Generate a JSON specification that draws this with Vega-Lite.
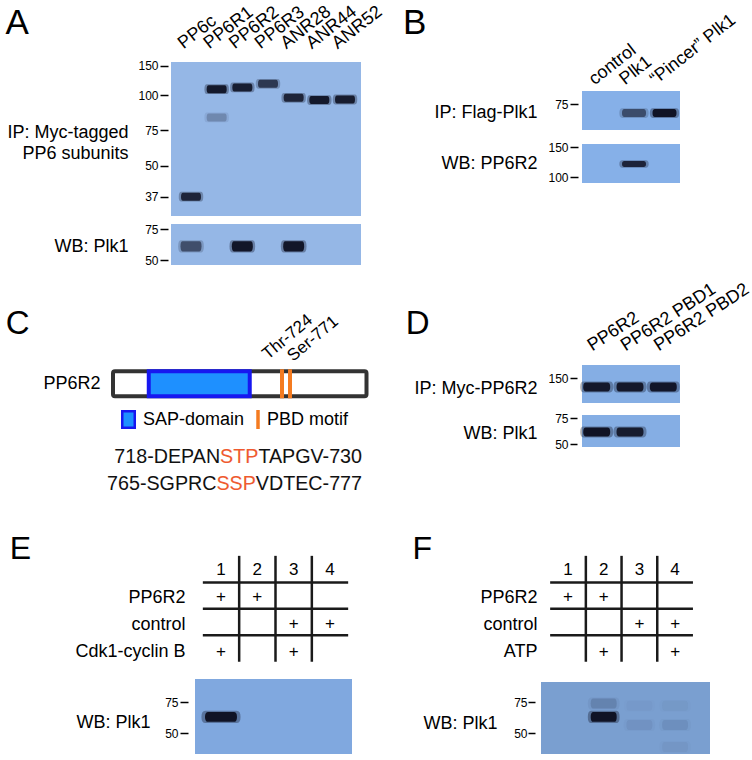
{
 "$schema": "https://vega.github.io/schema/vega-lite/v6.json",
 "width": 752, "height": 760,
 "autosize": {"type": "none"},
 "padding": 0,
 "config": {
  "font": "Liberation Sans",
  "view": {"stroke": null},
  "axis": {"labelFont": "Liberation Sans", "titleFont": "Liberation Sans", "domain": false, "grid": false, "labelColor": "black", "titleColor": "black", "titleFontWeight": "normal", "tickColor": "black", "tickWidth": 1.5, "labelOverlap": false, "labelFlush": false, "labelLimit": 0, "titleAngle": 0, "titleLimit": 0},
  "text": {"font": "Liberation Sans", "color": "black"},
  "tick": {"opacity": 1},
  "point": {"opacity": 1}
 },
 "datasets": {
  "blots": [
   {"blot": "A-IP"}, {"blot": "A-WB"}, {"blot": "B-IP"}, {"blot": "B-WB"},
   {"blot": "D-IP"}, {"blot": "D-WB"}, {"blot": "E-WB"}, {"blot": "F-WB"}
  ],
  "bands": [
   {"blot": "A-IP", "lane": "PP6c", "mw": 37, "intensity": 0.85},
   {"blot": "A-IP", "lane": "PP6R1", "mw": 110, "intensity": 0.95},
   {"blot": "A-IP", "lane": "PP6R1", "mw": 84, "intensity": 0.22},
   {"blot": "A-IP", "lane": "PP6R2", "mw": 113, "intensity": 0.9},
   {"blot": "A-IP", "lane": "PP6R3", "mw": 119, "intensity": 0.7},
   {"blot": "A-IP", "lane": "ANR28", "mw": 98, "intensity": 0.85},
   {"blot": "A-IP", "lane": "ANR44", "mw": 96.4, "intensity": 0.95},
   {"blot": "A-IP", "lane": "ANR52", "mw": 96.8, "intensity": 0.92},
   {"blot": "A-WB", "lane": "PP6c", "mw": 61, "intensity": 0.55},
   {"blot": "A-WB", "lane": "PP6R2", "mw": 61, "intensity": 0.97},
   {"blot": "A-WB", "lane": "ANR28", "mw": 61, "intensity": 0.97},
   {"blot": "B-IP", "lane": "Plk1", "mw": 67.7, "intensity": 0.55},
   {"blot": "B-IP", "lane": "“Pincer” Plk1", "mw": 67.7, "intensity": 1},
   {"blot": "B-WB", "lane": "Plk1", "mw": 121.7, "intensity": 0.85},
   {"blot": "D-IP", "lane": "PP6R2", "mw": 135, "intensity": 0.95},
   {"blot": "D-IP", "lane": "PP6R2 PBD1", "mw": 135, "intensity": 0.95},
   {"blot": "D-IP", "lane": "PP6R2 PBD2", "mw": 135, "intensity": 0.97},
   {"blot": "D-WB", "lane": "PP6R2", "mw": 61.5, "intensity": 1},
   {"blot": "D-WB", "lane": "PP6R2 PBD1", "mw": 61.5, "intensity": 0.92},
   {"blot": "E-WB", "laneNo": 1, "mw": 63, "intensity": 1},
   {"blot": "F-WB", "laneNo": 2, "mw": 63, "intensity": 1},
   {"blot": "F-WB", "laneNo": 2, "mw": 73.8, "intensity": 0.15},
   {"blot": "F-WB", "laneNo": 3, "mw": 56.5, "intensity": 0.06},
   {"blot": "F-WB", "laneNo": 4, "mw": 56.5, "intensity": 0.08},
   {"blot": "F-WB", "laneNo": 3, "mw": 72, "intensity": 0.025},
   {"blot": "F-WB", "laneNo": 4, "mw": 72, "intensity": 0.03},
   {"blot": "F-WB", "laneNo": 4, "mw": 38.7, "intensity": 0.04}
  ],
  "protein": [{"name": "PP6R2", "start": 1, "end": 923}],
  "domains": [{"name": "PP6R2", "feature": "SAP-domain", "start": 154, "end": 586}],
  "motifs": [
   {"name": "PP6R2", "feature": "PBD motif", "site": "Thr-724", "residue": 724},
   {"name": "PP6R2", "feature": "PBD motif", "site": "Ser-771", "residue": 771}
  ],
  "features": [{"feature": "SAP-domain"}, {"feature": "PBD motif"}],
  "sequences": [
   {"line": 1, "sequence": "718-DEPANSTPTAPGV-730", "fromMotif": "STPTAPGV-730", "afterMotif": "TAPGV-730"},
   {"line": 2, "sequence": "765-SGPRCSSPVDTEC-777", "fromMotif": "SSPVDTEC-777", "afterMotif": "VDTEC-777"}
  ],
  "tableRows": [
   {"panel": "E", "condition": "header"}, {"panel": "E", "condition": "PP6R2"}, {"panel": "E", "condition": "control"}, {"panel": "E", "condition": "Cdk1-cyclin B"},
   {"panel": "F", "condition": "header"}, {"panel": "F", "condition": "PP6R2"}, {"panel": "F", "condition": "control"}, {"panel": "F", "condition": "ATP"}
  ],
  "table": [
   {"panel": "E", "condition": "header", "laneNo": 1, "text": "1"},
   {"panel": "E", "condition": "header", "laneNo": 2, "text": "2"},
   {"panel": "E", "condition": "header", "laneNo": 3, "text": "3"},
   {"panel": "E", "condition": "header", "laneNo": 4, "text": "4"},
   {"panel": "E", "condition": "PP6R2", "laneNo": 1, "text": "+"},
   {"panel": "E", "condition": "PP6R2", "laneNo": 2, "text": "+"},
   {"panel": "E", "condition": "control", "laneNo": 3, "text": "+"},
   {"panel": "E", "condition": "control", "laneNo": 4, "text": "+"},
   {"panel": "E", "condition": "Cdk1-cyclin B", "laneNo": 1, "text": "+"},
   {"panel": "E", "condition": "Cdk1-cyclin B", "laneNo": 3, "text": "+"},
   {"panel": "F", "condition": "header", "laneNo": 1, "text": "1"},
   {"panel": "F", "condition": "header", "laneNo": 2, "text": "2"},
   {"panel": "F", "condition": "header", "laneNo": 3, "text": "3"},
   {"panel": "F", "condition": "header", "laneNo": 4, "text": "4"},
   {"panel": "F", "condition": "PP6R2", "laneNo": 1, "text": "+"},
   {"panel": "F", "condition": "PP6R2", "laneNo": 2, "text": "+"},
   {"panel": "F", "condition": "control", "laneNo": 3, "text": "+"},
   {"panel": "F", "condition": "control", "laneNo": 4, "text": "+"},
   {"panel": "F", "condition": "ATP", "laneNo": 2, "text": "+"},
   {"panel": "F", "condition": "ATP", "laneNo": 4, "text": "+"}
  ]
 },
 "resolve": {"scale": {"x": "independent", "y": "independent"}},
 "layer": [
  {"data": {"name": "blots"}, "transform": [{"filter": "datum.blot === 'A-IP'"}], "mark": {"type": "rect", "color": "#95b7e6"},
   "encoding": {"x": {"field": "blot", "type": "nominal", "scale": {"type": "band", "range": [171, 361], "paddingInner": 0, "paddingOuter": 0}, "axis": null},
                "y": {"field": "blot", "type": "nominal", "scale": {"type": "band", "range": [62, 216], "paddingInner": 0, "paddingOuter": 0}, "axis": null}}},
  {"data": {"name": "blots"}, "transform": [{"filter": "datum.blot === 'A-WB'"}], "mark": {"type": "rect", "color": "#95b7e6"},
   "encoding": {"x": {"field": "blot", "type": "nominal", "scale": {"type": "band", "range": [171, 361], "paddingInner": 0, "paddingOuter": 0}, "axis": null},
                "y": {"field": "blot", "type": "nominal", "scale": {"type": "band", "range": [224, 265], "paddingInner": 0, "paddingOuter": 0}, "axis": null}}},
  {"data": {"name": "blots"}, "transform": [{"filter": "datum.blot === 'B-IP'"}], "mark": {"type": "rect", "color": "#86b0e8"},
   "encoding": {"x": {"field": "blot", "type": "nominal", "scale": {"type": "band", "range": [582, 680], "paddingInner": 0, "paddingOuter": 0}, "axis": null},
                "y": {"field": "blot", "type": "nominal", "scale": {"type": "band", "range": [91, 130], "paddingInner": 0, "paddingOuter": 0}, "axis": null}}},
  {"data": {"name": "blots"}, "transform": [{"filter": "datum.blot === 'B-WB'"}], "mark": {"type": "rect", "color": "#86b0e8"},
   "encoding": {"x": {"field": "blot", "type": "nominal", "scale": {"type": "band", "range": [582, 680], "paddingInner": 0, "paddingOuter": 0}, "axis": null},
                "y": {"field": "blot", "type": "nominal", "scale": {"type": "band", "range": [144, 183], "paddingInner": 0, "paddingOuter": 0}, "axis": null}}},
  {"data": {"name": "blots"}, "transform": [{"filter": "datum.blot === 'D-IP'"}], "mark": {"type": "rect", "color": "#85aee4"},
   "encoding": {"x": {"field": "blot", "type": "nominal", "scale": {"type": "band", "range": [582, 680], "paddingInner": 0, "paddingOuter": 0}, "axis": null},
                "y": {"field": "blot", "type": "nominal", "scale": {"type": "band", "range": [365, 403], "paddingInner": 0, "paddingOuter": 0}, "axis": null}}},
  {"data": {"name": "blots"}, "transform": [{"filter": "datum.blot === 'D-WB'"}], "mark": {"type": "rect", "color": "#85aee4"},
   "encoding": {"x": {"field": "blot", "type": "nominal", "scale": {"type": "band", "range": [582, 680], "paddingInner": 0, "paddingOuter": 0}, "axis": null},
                "y": {"field": "blot", "type": "nominal", "scale": {"type": "band", "range": [415, 447], "paddingInner": 0, "paddingOuter": 0}, "axis": null}}},
  {"data": {"name": "blots"}, "transform": [{"filter": "datum.blot === 'E-WB'"}], "mark": {"type": "rect", "color": "#80a8df"},
   "encoding": {"x": {"field": "blot", "type": "nominal", "scale": {"type": "band", "range": [195, 352], "paddingInner": 0, "paddingOuter": 0}, "axis": null},
                "y": {"field": "blot", "type": "nominal", "scale": {"type": "band", "range": [679, 754], "paddingInner": 0, "paddingOuter": 0}, "axis": null}}},
  {"data": {"name": "blots"}, "transform": [{"filter": "datum.blot === 'F-WB'"}], "mark": {"type": "rect", "color": "#7a9fd0"},
   "encoding": {"x": {"field": "blot", "type": "nominal", "scale": {"type": "band", "range": [541, 710], "paddingInner": 0, "paddingOuter": 0}, "axis": null},
                "y": {"field": "blot", "type": "nominal", "scale": {"type": "band", "range": [682, 754], "paddingInner": 0, "paddingOuter": 0}, "axis": null}}},

  {"data": {"name": "bands"}, "transform": [{"filter": "datum.blot === 'A-IP'"}],
   "encoding": {
    "x": {"field": "lane", "type": "ordinal", "scale": {"type": "point", "domain": ["PP6c", "PP6R1", "PP6R2", "PP6R3", "ANR28", "ANR44", "ANR52"], "range": [191, 345], "padding": 0},
          "axis": {"orient": "top", "offset": -62, "ticks": false, "tickSize": 0, "labelAngle": -38, "labelAlign": "left", "labelBaseline": "alphabetic", "labelPadding": 13, "labelOffset": -8, "labelFontSize": 18,
                   "title": "A", "titleX": 5, "titleY": -29, "titleAlign": "left", "titleBaseline": "alphabetic", "titleFontSize": 35}},
    "y": {"field": "mw", "type": "quantitative", "scale": {"domain": [37, 50, 75, 100, 150], "range": [196.7, 165.7, 130, 95, 65.7], "nice": false, "zero": false},
          "axis": {"orient": "left", "offset": -168, "values": [150, 100, 75, 50, 37], "tickSize": 8, "labelPadding": 2, "labelFontSize": 12,
                   "title": ["IP: Myc-tagged", "PP6 subunits"], "titleX": -40, "titleY": 132.5, "titleAlign": "right", "titleBaseline": "middle", "titleFontSize": 18, "titleLineHeight": 21}}
   },
   "layer": [
    {"mark": {"type": "point", "shape": "M-0.8,-0.4L0.8,-0.4Q1,-0.4 1,0Q1,0.4 0.8,0.4L-0.8,0.4Q-1,0.4 -1,0Q-1,-0.4 -0.8,-0.4Z", "size": 600, "filled": true, "color": "#101325", "opacity": 0.35, "strokeWidth": 0},
     "encoding": {"fillOpacity": {"field": "intensity", "type": "quantitative", "scale": null}}},
    {"mark": {"type": "point", "shape": "M-0.8,-0.4L0.8,-0.4Q1,-0.4 1,0Q1,0.4 0.8,0.4L-0.8,0.4Q-1,0.4 -1,0Q-1,-0.4 -0.8,-0.4Z", "size": 400, "filled": true, "color": "#101325", "strokeWidth": 0},
     "encoding": {"opacity": {"field": "intensity", "type": "quantitative", "scale": null}}}
   ]},

  {"data": {"name": "bands"}, "transform": [{"filter": "datum.blot === 'A-WB'"}],
   "encoding": {
    "x": {"field": "lane", "type": "ordinal", "scale": {"type": "point", "domain": ["PP6c", "PP6R1", "PP6R2", "PP6R3", "ANR28", "ANR44", "ANR52"], "range": [191, 345], "padding": 0}, "axis": null},
    "y": {"field": "mw", "type": "quantitative", "scale": {"domain": [50, 75], "range": [260, 229], "nice": false, "zero": false},
          "axis": {"orient": "left", "offset": -168, "values": [75, 50], "tickSize": 8, "labelPadding": 2, "labelFontSize": 12,
                   "title": "WB: Plk1", "titleX": -40, "titleY": 246, "titleAlign": "right", "titleBaseline": "middle", "titleFontSize": 18}}
   },
   "layer": [
    {"mark": {"type": "point", "shape": "M-0.8,-0.48L0.8,-0.48Q1,-0.48 1,0Q1,0.48 0.8,0.48L-0.8,0.48Q-1,0.48 -1,0Q-1,-0.48 -0.8,-0.48Z", "size": 660, "filled": true, "color": "#101325", "opacity": 0.35, "strokeWidth": 0},
     "encoding": {"fillOpacity": {"field": "intensity", "type": "quantitative", "scale": null}}},
    {"mark": {"type": "point", "shape": "M-0.8,-0.48L0.8,-0.48Q1,-0.48 1,0Q1,0.48 0.8,0.48L-0.8,0.48Q-1,0.48 -1,0Q-1,-0.48 -0.8,-0.48Z", "size": 441, "filled": true, "color": "#101325", "strokeWidth": 0},
     "encoding": {"opacity": {"field": "intensity", "type": "quantitative", "scale": null}}}
   ]},

  {"data": {"name": "bands"}, "transform": [{"filter": "datum.blot === 'B-IP'"}],
   "encoding": {
    "x": {"field": "lane", "type": "ordinal", "scale": {"type": "point", "domain": ["control", "Plk1", "“Pincer” Plk1"], "range": [603.5, 664.5], "padding": 0},
          "axis": {"orient": "top", "offset": -91, "ticks": false, "tickSize": 0, "labelAngle": -38, "labelAlign": "left", "labelBaseline": "alphabetic", "labelPadding": 6, "labelOffset": -9.5, "labelFontSize": 18,
                   "title": "B", "titleX": 402.5, "titleY": -58, "titleAlign": "left", "titleBaseline": "alphabetic", "titleFontSize": 35}},
    "y": {"field": "mw", "type": "quantitative", "scale": {"domain": [50, 75], "range": [135, 104], "nice": false, "zero": false},
          "axis": {"orient": "left", "offset": -578, "values": [75], "tickSize": 8, "labelPadding": 2, "labelFontSize": 12,
                   "title": "IP: Flag-Plk1", "titleX": -41, "titleY": 112, "titleAlign": "right", "titleBaseline": "middle", "titleFontSize": 18}}
   },
   "layer": [
    {"mark": {"type": "point", "shape": "M-0.8,-0.33L0.8,-0.33Q1,-0.33 1,0Q1,0.33 0.8,0.33L-0.8,0.33Q-1,0.33 -1,0Q-1,-0.33 -0.8,-0.33Z", "size": 860, "filled": true, "color": "#101325", "opacity": 0.35, "strokeWidth": 0},
     "encoding": {"fillOpacity": {"field": "intensity", "type": "quantitative", "scale": null}}},
    {"mark": {"type": "point", "shape": "M-0.8,-0.33L0.8,-0.33Q1,-0.33 1,0Q1,0.33 0.8,0.33L-0.8,0.33Q-1,0.33 -1,0Q-1,-0.33 -0.8,-0.33Z", "size": 576, "filled": true, "color": "#101325", "strokeWidth": 0},
     "encoding": {"opacity": {"field": "intensity", "type": "quantitative", "scale": null}}}
   ]},

  {"data": {"name": "bands"}, "transform": [{"filter": "datum.blot === 'B-WB'"}],
   "encoding": {
    "x": {"field": "lane", "type": "ordinal", "scale": {"type": "point", "domain": ["control", "Plk1", "“Pincer” Plk1"], "range": [603.5, 664.5], "padding": 0}, "axis": null},
    "y": {"field": "mw", "type": "quantitative", "scale": {"domain": [100, 150], "range": [177, 147], "nice": false, "zero": false},
          "axis": {"orient": "left", "offset": -578, "values": [150, 100], "tickSize": 8, "labelPadding": 2, "labelFontSize": 12,
                   "title": "WB: PP6R2", "titleX": -41, "titleY": 163, "titleAlign": "right", "titleBaseline": "middle", "titleFontSize": 18}}
   },
   "layer": [
    {"mark": {"type": "point", "shape": "M-0.8,-0.25L0.8,-0.25Q1,-0.25 1,0Q1,0.25 0.8,0.25L-0.8,0.25Q-1,0.25 -1,0Q-1,-0.25 -0.8,-0.25Z", "size": 860, "filled": true, "color": "#101325", "opacity": 0.35, "strokeWidth": 0},
     "encoding": {"fillOpacity": {"field": "intensity", "type": "quantitative", "scale": null}}},
    {"mark": {"type": "point", "shape": "M-0.8,-0.25L0.8,-0.25Q1,-0.25 1,0Q1,0.25 0.8,0.25L-0.8,0.25Q-1,0.25 -1,0Q-1,-0.25 -0.8,-0.25Z", "size": 576, "filled": true, "color": "#101325", "strokeWidth": 0},
     "encoding": {"opacity": {"field": "intensity", "type": "quantitative", "scale": null}}}
   ]},

  {"data": {"name": "bands"}, "transform": [{"filter": "datum.blot === 'D-IP'"}],
   "encoding": {
    "x": {"field": "lane", "type": "ordinal", "scale": {"type": "point", "domain": ["PP6R2", "PP6R2 PBD1", "PP6R2 PBD2"], "range": [596.7, 663.3], "padding": 0},
          "axis": {"orient": "top", "offset": -365, "ticks": false, "tickSize": 0, "labelAngle": -33, "labelAlign": "left", "labelBaseline": "alphabetic", "labelPadding": 14, "labelOffset": -5, "labelFontSize": 18,
                   "title": "D", "titleX": 405.3, "titleY": -32, "titleAlign": "left", "titleBaseline": "alphabetic", "titleFontSize": 33}},
    "y": {"field": "mw", "type": "quantitative", "scale": {"domain": [100, 150], "range": [408, 378], "nice": false, "zero": false},
          "axis": {"orient": "left", "offset": -577, "values": [150], "tickSize": 7, "labelPadding": 2, "labelFontSize": 12,
                   "title": "IP: Myc-PP6R2", "titleX": -40, "titleY": 388, "titleAlign": "right", "titleBaseline": "middle", "titleFontSize": 18}}
   },
   "layer": [
    {"mark": {"type": "point", "shape": "M-0.8,-0.33L0.8,-0.33Q1,-0.33 1,0Q1,0.33 0.8,0.33L-0.8,0.33Q-1,0.33 -1,0Q-1,-0.33 -0.8,-0.33Z", "size": 1090, "filled": true, "color": "#101325", "opacity": 0.35, "strokeWidth": 0},
     "encoding": {"fillOpacity": {"field": "intensity", "type": "quantitative", "scale": null}}},
    {"mark": {"type": "point", "shape": "M-0.8,-0.33L0.8,-0.33Q1,-0.33 1,0Q1,0.33 0.8,0.33L-0.8,0.33Q-1,0.33 -1,0Q-1,-0.33 -0.8,-0.33Z", "size": 729, "filled": true, "color": "#101325", "strokeWidth": 0},
     "encoding": {"opacity": {"field": "intensity", "type": "quantitative", "scale": null}}}
   ]},

  {"data": {"name": "bands"}, "transform": [{"filter": "datum.blot === 'D-WB'"}],
   "encoding": {
    "x": {"field": "lane", "type": "ordinal", "scale": {"type": "point", "domain": ["PP6R2", "PP6R2 PBD1", "PP6R2 PBD2"], "range": [596.7, 663.3], "padding": 0}, "axis": null},
    "y": {"field": "mw", "type": "quantitative", "scale": {"domain": [50, 75], "range": [444, 418], "nice": false, "zero": false},
          "axis": {"orient": "left", "offset": -577, "values": [75, 50], "tickSize": 7, "labelPadding": 2, "labelFontSize": 12,
                   "title": "WB: Plk1", "titleX": -40, "titleY": 433, "titleAlign": "right", "titleBaseline": "middle", "titleFontSize": 18}}
   },
   "layer": [
    {"mark": {"type": "point", "shape": "M-0.8,-0.33L0.8,-0.33Q1,-0.33 1,0Q1,0.33 0.8,0.33L-0.8,0.33Q-1,0.33 -1,0Q-1,-0.33 -0.8,-0.33Z", "size": 1090, "filled": true, "color": "#101325", "opacity": 0.35, "strokeWidth": 0},
     "encoding": {"fillOpacity": {"field": "intensity", "type": "quantitative", "scale": null}}},
    {"mark": {"type": "point", "shape": "M-0.8,-0.33L0.8,-0.33Q1,-0.33 1,0Q1,0.33 0.8,0.33L-0.8,0.33Q-1,0.33 -1,0Q-1,-0.33 -0.8,-0.33Z", "size": 729, "filled": true, "color": "#101325", "strokeWidth": 0},
     "encoding": {"opacity": {"field": "intensity", "type": "quantitative", "scale": null}}}
   ]},

  {"data": {"name": "bands"}, "transform": [{"filter": "datum.blot === 'E-WB'"}],
   "encoding": {
    "x": {"field": "laneNo", "type": "quantitative", "scale": {"domain": [1, 4], "range": [221, 330], "nice": false, "zero": false}, "axis": null},
    "y": {"field": "mw", "type": "quantitative", "scale": {"domain": [50, 75], "range": [733, 702], "nice": false, "zero": false},
          "axis": {"orient": "left", "offset": -188, "values": [75, 50], "tickSize": 8, "labelPadding": 2, "labelFontSize": 12,
                   "title": "WB: Plk1", "titleX": -38, "titleY": 722, "titleAlign": "right", "titleBaseline": "middle", "titleFontSize": 18}}
   },
   "layer": [
    {"mark": {"type": "point", "shape": "M-0.8,-0.31L0.8,-0.31Q1,-0.31 1,0Q1,0.31 0.8,0.31L-0.8,0.31Q-1,0.31 -1,0Q-1,-0.31 -0.8,-0.31Z", "size": 1530, "filled": true, "color": "#101325", "opacity": 0.35, "strokeWidth": 0},
     "encoding": {"fillOpacity": {"field": "intensity", "type": "quantitative", "scale": null}}},
    {"mark": {"type": "point", "shape": "M-0.8,-0.31L0.8,-0.31Q1,-0.31 1,0Q1,0.31 0.8,0.31L-0.8,0.31Q-1,0.31 -1,0Q-1,-0.31 -0.8,-0.31Z", "size": 1024, "filled": true, "color": "#101325", "strokeWidth": 0},
     "encoding": {"opacity": {"field": "intensity", "type": "quantitative", "scale": null}}}
   ]},

  {"data": {"name": "bands"}, "transform": [{"filter": "datum.blot === 'F-WB'"}],
   "encoding": {
    "x": {"field": "laneNo", "type": "quantitative", "scale": {"domain": [1, 4], "range": [568, 675.1], "nice": false, "zero": false}, "axis": null},
    "y": {"field": "mw", "type": "quantitative", "scale": {"domain": [50, 75], "range": [733, 702], "nice": false, "zero": false},
          "axis": {"orient": "left", "offset": -535, "values": [75, 50], "tickSize": 7, "labelPadding": 1, "labelFontSize": 12,
                   "title": "WB: Plk1", "titleX": -38, "titleY": 723, "titleAlign": "right", "titleBaseline": "middle", "titleFontSize": 18}}
   },
   "layer": [
    {"mark": {"type": "point", "shape": "M-0.8,-0.38L0.8,-0.38Q1,-0.38 1,0Q1,0.38 0.8,0.38L-0.8,0.38Q-1,0.38 -1,0Q-1,-0.38 -0.8,-0.38Z", "size": 1010, "filled": true, "color": "#101325", "opacity": 0.35, "strokeWidth": 0},
     "encoding": {"fillOpacity": {"field": "intensity", "type": "quantitative", "scale": null}}},
    {"mark": {"type": "point", "shape": "M-0.8,-0.38L0.8,-0.38Q1,-0.38 1,0Q1,0.38 0.8,0.38L-0.8,0.38Q-1,0.38 -1,0Q-1,-0.38 -0.8,-0.38Z", "size": 676, "filled": true, "color": "#101325", "strokeWidth": 0},
     "encoding": {"opacity": {"field": "intensity", "type": "quantitative", "scale": null}}}
   ]},

  {"layer": [
    {"data": {"name": "protein"},
     "mark": {"type": "rect", "fill": "white", "stroke": "#333333", "strokeWidth": 4, "cornerRadius": 2},
     "encoding": {
      "x": {"field": "start", "type": "quantitative", "scale": {"domain": [1, 724, 771, 923], "range": [113, 282, 290, 366.5], "nice": false, "zero": false},
            "axis": {"orient": "top", "offset": 0, "labels": false, "ticks": false, "title": "C", "titleX": 5.3, "titleY": 333, "titleAlign": "left", "titleBaseline": "alphabetic", "titleFontSize": 33}},
      "x2": {"field": "end"},
      "y": {"field": "name", "type": "nominal", "scale": {"type": "band", "domain": ["PP6R2"], "range": [371.3, 396.3], "paddingInner": 0, "paddingOuter": 0},
            "axis": {"orient": "left", "offset": -113, "title": null, "ticks": false, "tickSize": 0, "labelPadding": 13, "labelFontSize": 18}}
     }},
    {"data": {"name": "domains"},
     "mark": {"type": "rect", "fill": "#1e90ff", "stroke": "#1717f0", "strokeWidth": 4},
     "encoding": {"x": {"field": "start", "type": "quantitative"}, "x2": {"field": "end"}, "y": {"field": "name", "type": "nominal"}}},
    {"data": {"name": "motifs"},
     "mark": {"type": "tick", "color": "#f47b20", "thickness": 4, "size": 29, "opacity": 1},
     "encoding": {"x": {"field": "residue", "type": "quantitative"}, "y": {"field": "name", "type": "nominal"}}},
    {"data": {"name": "motifs"}, "transform": [{"filter": "datum.site === 'Thr-724'"}],
     "mark": {"type": "text", "angle": -40, "align": "left", "baseline": "alphabetic", "fontSize": 17, "dx": -3.5, "dy": -17.7},
     "encoding": {"x": {"field": "residue", "type": "quantitative"}, "y": {"field": "name", "type": "nominal", "bandPosition": 0}, "text": {"field": "site"}}},
    {"data": {"name": "motifs"}, "transform": [{"filter": "datum.site === 'Ser-771'"}],
     "mark": {"type": "text", "angle": -40, "align": "left", "baseline": "alphabetic", "fontSize": 17, "dx": 8.3, "dy": -5.2},
     "encoding": {"x": {"field": "residue", "type": "quantitative"}, "y": {"field": "name", "type": "nominal", "bandPosition": 0}, "text": {"field": "site"}}}
  ]},

  {"data": {"name": "features"},
   "encoding": {
    "x": {"field": "feature", "type": "nominal", "scale": {"type": "point", "domain": ["SAP-domain", "PBD motif"], "range": [128.5, 258], "padding": 0}, "axis": null},
    "y": {"field": "feature", "type": "nominal", "scale": {"type": "point", "domain": ["SAP-domain", "PBD motif"], "range": [419.5, 419.5], "padding": 0}, "axis": null}
   },
   "layer": [
    {"transform": [{"filter": "datum.feature === 'SAP-domain'"}],
     "mark": {"type": "point", "shape": "M-0.758,-1L0.758,-1L0.758,1L-0.758,1Z", "size": 272.25, "filled": true, "fill": "#1e90ff", "stroke": "#1717f0", "strokeWidth": 2.5, "opacity": 1}},
    {"transform": [{"filter": "datum.feature === 'PBD motif'"}],
     "mark": {"type": "point", "shape": "M-0.184,-1L0.184,-1L0.184,1L-0.184,1Z", "size": 361, "filled": true, "fill": "#f47b20", "strokeWidth": 0, "opacity": 1}},
    {"transform": [{"filter": "datum.feature === 'SAP-domain'"}],
     "mark": {"type": "text", "align": "left", "baseline": "middle", "fontSize": 18, "dx": 14.5},
     "encoding": {"text": {"field": "feature"}}},
    {"transform": [{"filter": "datum.feature === 'PBD motif'"}],
     "mark": {"type": "text", "align": "left", "baseline": "middle", "fontSize": 18, "dx": 9},
     "encoding": {"text": {"field": "feature"}}}
   ]},

  {"data": {"name": "sequences"},
   "encoding": {
    "x": {"field": "line", "type": "ordinal", "scale": {"type": "point", "domain": [1, 2], "range": [362, 362], "padding": 0}, "axis": null},
    "y": {"field": "line", "type": "ordinal", "scale": {"type": "point", "domain": [1, 2], "range": [457, 484], "padding": 0}, "axis": null}
   },
   "layer": [
    {"mark": {"type": "text", "align": "right", "baseline": "middle", "fontSize": 19.7, "color": "#111111"}, "encoding": {"text": {"field": "sequence"}}},
    {"mark": {"type": "text", "align": "right", "baseline": "middle", "fontSize": 19.7, "fill": "white", "stroke": "white", "strokeWidth": 1.2}, "encoding": {"text": {"field": "fromMotif"}}},
    {"mark": {"type": "text", "align": "right", "baseline": "middle", "fontSize": 19.7, "color": "#ef5a2f"}, "encoding": {"text": {"field": "fromMotif"}}},
    {"mark": {"type": "text", "align": "right", "baseline": "middle", "fontSize": 19.7, "fill": "white", "stroke": "white", "strokeWidth": 1.2}, "encoding": {"text": {"field": "afterMotif"}}},
    {"mark": {"type": "text", "align": "right", "baseline": "middle", "fontSize": 19.7, "color": "#111111"}, "encoding": {"text": {"field": "afterMotif"}}}
   ]},

  {"resolve": {"scale": {"y": "independent"}},
   "layer": [
    {"data": {"name": "tableRows"}, "transform": [{"filter": "datum.panel === 'E' && datum.condition !== 'header'"}],
     "mark": {"type": "rule", "strokeWidth": 2.5, "color": "#1a1a1a"},
     "encoding": {
      "y": {"field": "condition", "type": "nominal", "bandPosition": 0,
            "scale": {"type": "band", "domain": ["header", "PP6R2", "control", "Cdk1-cyclin B"], "range": [556, 661.6], "paddingInner": 0, "paddingOuter": 0}, "axis": null},
      "x": {"datum": 0.5, "type": "quantitative", "scale": {"domain": [1, 4], "range": [221, 330], "nice": false, "zero": false},
            "axis": {"orient": "top", "offset": 0, "labels": false, "ticks": false, "title": "E", "titleX": 9.3, "titleY": 558, "titleAlign": "left", "titleBaseline": "alphabetic", "titleFontSize": 32}},
      "x2": {"datum": 4.5}
     }},
    {"data": {"name": "tableRows"}, "transform": [{"filter": "datum.panel === 'E'"}],
     "mark": {"type": "tick", "thickness": 2.5, "size": 26.7, "color": "#1a1a1a", "opacity": 1},
     "encoding": {"x": {"datum": 1.5, "type": "quantitative"},
                  "y": {"field": "condition", "type": "nominal", "scale": {"type": "band", "domain": ["header", "PP6R2", "control", "Cdk1-cyclin B"], "range": [556, 661.6], "paddingInner": 0, "paddingOuter": 0}, "axis": null}}},
    {"data": {"name": "tableRows"}, "transform": [{"filter": "datum.panel === 'E'"}],
     "mark": {"type": "tick", "thickness": 2.5, "size": 26.7, "color": "#1a1a1a", "opacity": 1},
     "encoding": {"x": {"datum": 2.5, "type": "quantitative"},
                  "y": {"field": "condition", "type": "nominal", "scale": {"type": "band", "domain": ["header", "PP6R2", "control", "Cdk1-cyclin B"], "range": [556, 661.6], "paddingInner": 0, "paddingOuter": 0}, "axis": null}}},
    {"data": {"name": "tableRows"}, "transform": [{"filter": "datum.panel === 'E'"}],
     "mark": {"type": "tick", "thickness": 2.5, "size": 26.7, "color": "#1a1a1a", "opacity": 1},
     "encoding": {"x": {"datum": 3.5, "type": "quantitative"},
                  "y": {"field": "condition", "type": "nominal", "scale": {"type": "band", "domain": ["header", "PP6R2", "control", "Cdk1-cyclin B"], "range": [556, 661.6], "paddingInner": 0, "paddingOuter": 0}, "axis": null}}},
    {"data": {"name": "table"}, "transform": [{"filter": "datum.panel === 'E'"}],
     "mark": {"type": "text", "fontSize": 17, "baseline": "middle"},
     "encoding": {"x": {"field": "laneNo", "type": "quantitative"},
                  "y": {"field": "condition", "type": "nominal", "scale": {"type": "point", "domain": ["header", "PP6R2", "control", "Cdk1-cyclin B"], "range": [570, 651.7], "padding": 0},
                        "axis": {"orient": "left", "offset": -185, "values": ["PP6R2", "control", "Cdk1-cyclin B"], "title": null, "ticks": false, "tickSize": 0, "labelPadding": 0, "labelFontSize": 18}},
                  "text": {"field": "text"}}}
  ]},

  {"resolve": {"scale": {"y": "independent"}},
   "layer": [
    {"data": {"name": "tableRows"}, "transform": [{"filter": "datum.panel === 'F' && datum.condition !== 'header'"}],
     "mark": {"type": "rule", "strokeWidth": 2.5, "color": "#1a1a1a"},
     "encoding": {
      "y": {"field": "condition", "type": "nominal", "bandPosition": 0,
            "scale": {"type": "band", "domain": ["header", "PP6R2", "control", "ATP"], "range": [556, 661.6], "paddingInner": 0, "paddingOuter": 0}, "axis": null},
      "x": {"datum": 0.5, "type": "quantitative", "scale": {"domain": [1, 4], "range": [568, 675.1], "nice": false, "zero": false},
            "axis": {"orient": "top", "offset": 0, "labels": false, "ticks": false, "title": "F", "titleX": 412, "titleY": 558, "titleAlign": "left", "titleBaseline": "alphabetic", "titleFontSize": 32}},
      "x2": {"datum": 4.5}
     }},
    {"data": {"name": "tableRows"}, "transform": [{"filter": "datum.panel === 'F'"}],
     "mark": {"type": "tick", "thickness": 2.5, "size": 26.7, "color": "#1a1a1a", "opacity": 1},
     "encoding": {"x": {"datum": 1.5, "type": "quantitative"},
                  "y": {"field": "condition", "type": "nominal", "scale": {"type": "band", "domain": ["header", "PP6R2", "control", "ATP"], "range": [556, 661.6], "paddingInner": 0, "paddingOuter": 0}, "axis": null}}},
    {"data": {"name": "tableRows"}, "transform": [{"filter": "datum.panel === 'F'"}],
     "mark": {"type": "tick", "thickness": 2.5, "size": 26.7, "color": "#1a1a1a", "opacity": 1},
     "encoding": {"x": {"datum": 2.5, "type": "quantitative"},
                  "y": {"field": "condition", "type": "nominal", "scale": {"type": "band", "domain": ["header", "PP6R2", "control", "ATP"], "range": [556, 661.6], "paddingInner": 0, "paddingOuter": 0}, "axis": null}}},
    {"data": {"name": "tableRows"}, "transform": [{"filter": "datum.panel === 'F'"}],
     "mark": {"type": "tick", "thickness": 2.5, "size": 26.7, "color": "#1a1a1a", "opacity": 1},
     "encoding": {"x": {"datum": 3.5, "type": "quantitative"},
                  "y": {"field": "condition", "type": "nominal", "scale": {"type": "band", "domain": ["header", "PP6R2", "control", "ATP"], "range": [556, 661.6], "paddingInner": 0, "paddingOuter": 0}, "axis": null}}},
    {"data": {"name": "table"}, "transform": [{"filter": "datum.panel === 'F'"}],
     "mark": {"type": "text", "fontSize": 17, "baseline": "middle"},
     "encoding": {"x": {"field": "laneNo", "type": "quantitative"},
                  "y": {"field": "condition", "type": "nominal", "scale": {"type": "point", "domain": ["header", "PP6R2", "control", "ATP"], "range": [570, 651.7], "padding": 0},
                        "axis": {"orient": "left", "offset": -537, "values": ["PP6R2", "control", "ATP"], "title": null, "ticks": false, "tickSize": 0, "labelPadding": 0, "labelFontSize": 18}},
                  "text": {"field": "text"}}}
  ]}
 ]
}
